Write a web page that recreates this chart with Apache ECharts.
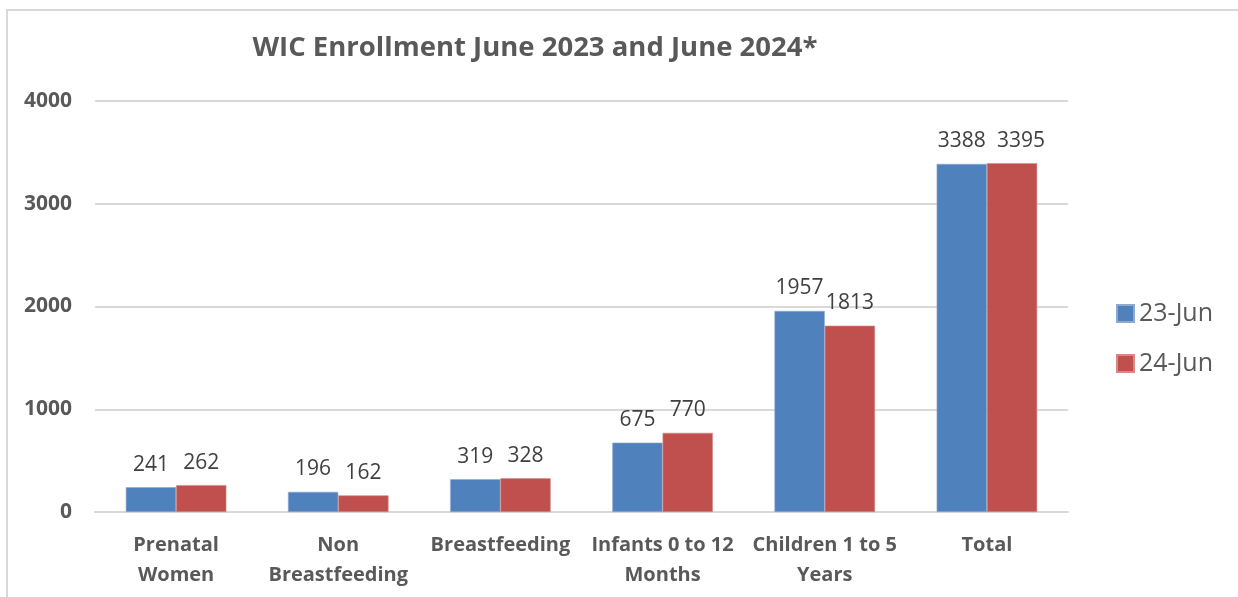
<!DOCTYPE html>
<html>
<head>
<meta charset="utf-8">
<script src="https://cdn.jsdelivr.net/npm/echarts@6/dist/echarts.min.js"></script>
<style>
html,body{margin:0;padding:0;background:#fff;}
#c{width:1238px;height:597px;}
</style>
</head>
<body>
<div id="c"></div>
<script>
const categories = ["Prenatal\nWomen", "Non\nBreastfeeding", "Breastfeeding", "Infants 0 to 12\nMonths", "Children 1 to 5\nYears", "Total"];
const seriesNames = ["23-Jun", "24-Jun"];
const jun2023 = [241, 196, 319, 675, 1957, 3388];
const jun2024 = [262, 162, 328, 770, 1813, 3395];
const yTicks = [0, 1000, 2000, 3000, 4000];

const FONT = "'Open Sans', 'Noto Sans', sans-serif";
const chart = echarts.init(document.getElementById('c'), null, {renderer: 'canvas'});
const labelStyle = {
  show: true, position: 'top', distance: 12,
  color: '#404040', fontSize: 21, fontFamily: FONT
};
// nudge the last red label right, as in the reference, to avoid touching its neighbour
const redData = jun2024.map((v, i) => i === jun2024.length - 1 ? {value: v, label: {offset: [9, 0]}} : v);
chart.setOption({
  animation: false,
  backgroundColor: '#ffffff',
  graphic: [{
    type: 'rect', z: -10,
    shape: {x: 7, y: 10, width: 1260, height: 620},
    style: {fill: 'none', stroke: '#d9d9d9', lineWidth: 2}
  }],
  title: {
    text: 'WIC Enrollment June 2023 and June 2024*',
    left: 530, top: 29, textAlign: 'center',
    textStyle: {color: '#595959', fontSize: 27.5, fontWeight: 'bold', fontFamily: FONT}
  },
  legend: {
    orient: 'vertical',
    left: 1111, top: 296,
    itemWidth: 17, itemHeight: 17, itemGap: 25,
    icon: 'rect',
    textStyle: {color: '#595959', fontSize: 25, lineHeight: 25, fontFamily: FONT, padding: [0, 0, 0, 0]},
    data: seriesNames
  },
  grid: {left: 95, right: 170, top: 101, bottom: 85, containLabel: false},
  xAxis: {
    type: 'category',
    data: categories,
    axisLine: {show: true, lineStyle: {color: '#d9d9d9', width: 2}},
    axisTick: {show: false},
    axisLabel: {
      color: '#595959', fontSize: 20, fontWeight: 'bold', fontFamily: FONT,
      lineHeight: 30, margin: 18, interval: 0
    }
  },
  yAxis: {
    type: 'value', min: 0, max: 4000, interval: 1000,
    axisLine: {show: false}, axisTick: {show: false},
    splitLine: {lineStyle: {color: '#d9d9d9', width: 2}},
    axisLabel: {
      color: '#595959', fontSize: 21, fontWeight: 'bold', fontFamily: FONT, margin: 23,
      formatter: v => yTicks.includes(v) ? String(v) : ''
    }
  },
  series: [
    {
      name: seriesNames[0], type: 'bar', data: jun2023,
      barGap: '0%', barCategoryGap: '38%',
      itemStyle: {color: '#4F81BD', borderColor: '#8EA9CF', borderWidth: 0.6},
      label: labelStyle
    },
    {
      name: seriesNames[1], type: 'bar', data: redData,
      itemStyle: {color: '#C0504D', borderColor: '#D48A88', borderWidth: 0.6},
      label: labelStyle
    }
  ]
});
</script>
</body>
</html>
